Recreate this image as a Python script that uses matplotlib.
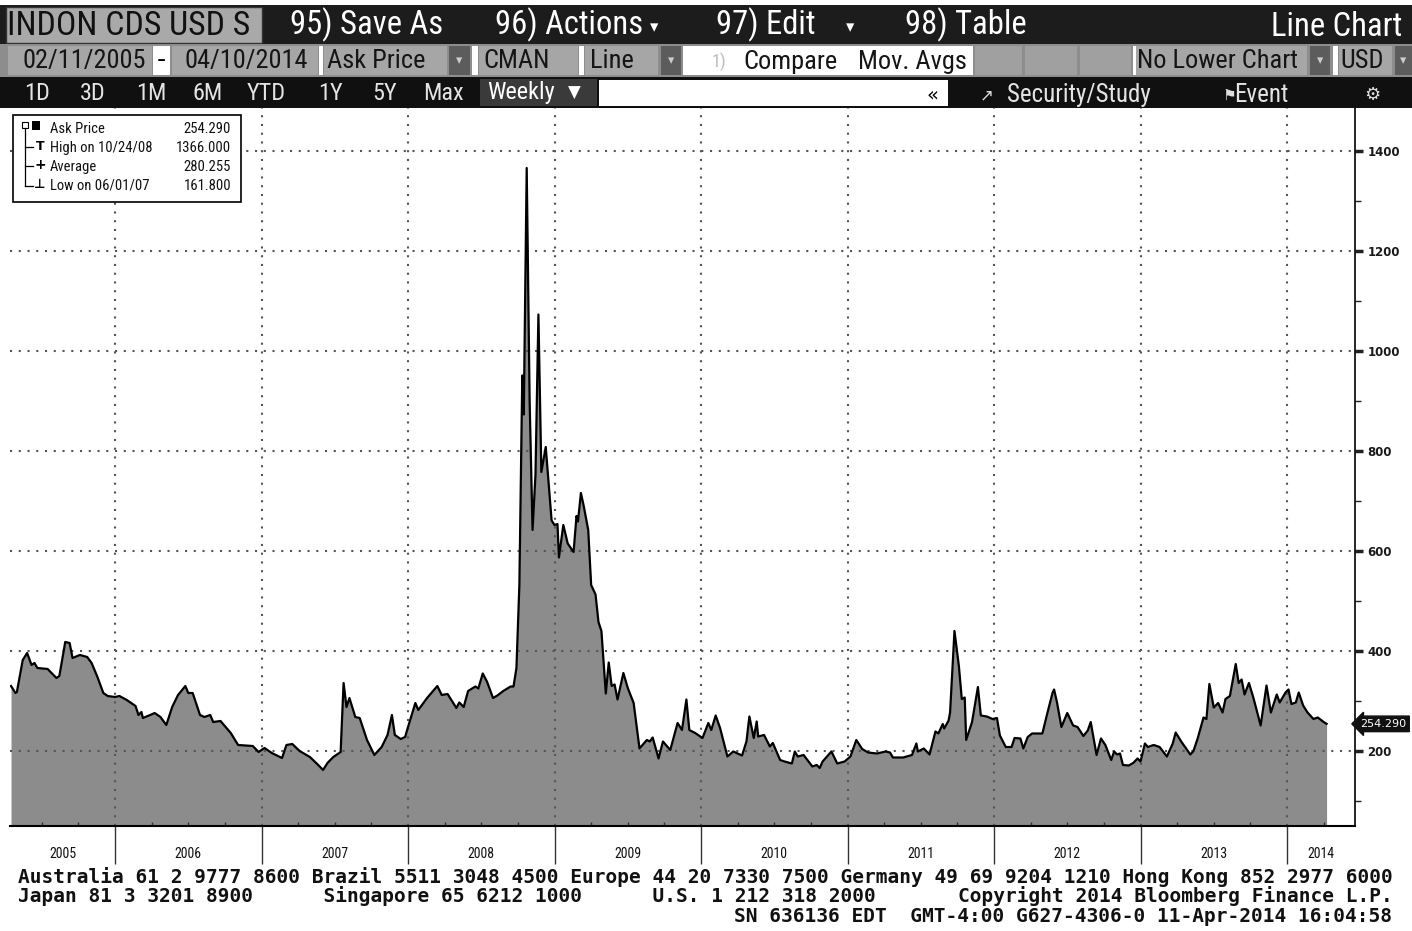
import matplotlib
matplotlib.use("Agg")
import matplotlib.pyplot as plt
from matplotlib.patches import Rectangle
from matplotlib.ticker import FixedLocator, MultipleLocator
from matplotlib.transforms import blended_transform_factory
from matplotlib import font_manager

# weekly ask price, INDON CDS USD 5y (time in decimal years)
years = [
    2005.29, 2005.32, 2005.33, 2005.37, 2005.40, 2005.43, 2005.45, 2005.47, 2005.54, 2005.60,
    2005.62, 2005.66, 2005.69, 2005.71, 2005.76, 2005.81, 2005.84, 2005.88, 2005.92, 2005.95,
    2006.00, 2006.03, 2006.08, 2006.14, 2006.16, 2006.18, 2006.19, 2006.24, 2006.27, 2006.31,
    2006.35, 2006.39, 2006.43, 2006.48, 2006.50, 2006.53, 2006.58, 2006.61, 2006.65, 2006.67,
    2006.72, 2006.79, 2006.84, 2006.94, 2006.98,
    2007.02, 2007.07, 2007.14, 2007.17, 2007.21, 2007.26, 2007.33, 2007.38, 2007.42, 2007.45,
    2007.49, 2007.54, 2007.56, 2007.58, 2007.60, 2007.64, 2007.67, 2007.72, 2007.77, 2007.82,
    2007.86, 2007.89, 2007.91, 2007.95, 2007.98,
    2008.00, 2008.05, 2008.07, 2008.13, 2008.20, 2008.23, 2008.27, 2008.33, 2008.35, 2008.38,
    2008.41, 2008.46, 2008.48, 2008.51, 2008.54, 2008.58, 2008.61, 2008.65, 2008.70, 2008.72,
    2008.74, 2008.76, 2008.78, 2008.79, 2008.81, 2008.83, 2008.85, 2008.87, 2008.89, 2008.91,
    2008.94, 2008.96, 2008.98,
    2009.00, 2009.02, 2009.03, 2009.06, 2009.09, 2009.13, 2009.15, 2009.16, 2009.18, 2009.20,
    2009.23, 2009.25, 2009.28, 2009.30, 2009.32, 2009.35, 2009.37, 2009.39, 2009.41, 2009.43,
    2009.47, 2009.50, 2009.54, 2009.58, 2009.63, 2009.65, 2009.67, 2009.71, 2009.74, 2009.79,
    2009.84, 2009.87, 2009.90, 2009.92, 2009.96,
    2010.01, 2010.05, 2010.07, 2010.10, 2010.13, 2010.18, 2010.22, 2010.28, 2010.31, 2010.33,
    2010.36, 2010.38, 2010.39, 2010.43, 2010.47, 2010.49, 2010.54, 2010.57, 2010.62, 2010.64,
    2010.66, 2010.70, 2010.76, 2010.79, 2010.81, 2010.83, 2010.86, 2010.89, 2010.93, 2010.98,
    2011.02, 2011.06, 2011.10, 2011.14, 2011.20, 2011.26, 2011.29, 2011.31, 2011.38, 2011.44,
    2011.47, 2011.48, 2011.52, 2011.56, 2011.60, 2011.62, 2011.65, 2011.66, 2011.69, 2011.70,
    2011.73, 2011.76, 2011.78, 2011.80, 2011.81, 2011.85, 2011.89, 2011.91, 2011.95, 2011.99,
    2012.02, 2012.04, 2012.08, 2012.12, 2012.14, 2012.18, 2012.20, 2012.23, 2012.26, 2012.33,
    2012.36, 2012.40, 2012.41, 2012.43, 2012.46, 2012.50, 2012.54, 2012.57, 2012.61, 2012.64,
    2012.66, 2012.70, 2012.73, 2012.76, 2012.80, 2012.82, 2012.84, 2012.86, 2012.88, 2012.92,
    2012.95, 2012.98,
    2013.00, 2013.03, 2013.05, 2013.09, 2013.13, 2013.18, 2013.22, 2013.24, 2013.28, 2013.34,
    2013.36, 2013.39, 2013.43, 2013.45, 2013.47, 2013.50, 2013.53, 2013.56, 2013.58, 2013.61,
    2013.65, 2013.67, 2013.69, 2013.71, 2013.74, 2013.77, 2013.82, 2013.86, 2013.89, 2013.93,
    2013.95, 2013.99,
    2014.01, 2014.03, 2014.06, 2014.08, 2014.11, 2014.14, 2014.18, 2014.21, 2014.25, 2014.27,
]
spread = [
    330, 316, 318, 382, 396, 372, 376, 366, 364, 346,
    350, 418, 416, 386, 392, 388, 376, 348, 316, 310,
    308, 310, 302, 290, 272, 278, 266, 272, 276, 268,
    252, 288, 312, 330, 316, 316, 272, 268, 272, 258,
    260, 236, 212, 210, 198,
    206, 196, 186, 212, 214, 200, 188, 174, 162, 176,
    188, 198, 336, 288, 306, 268, 266, 222, 192, 208,
    232, 272, 232, 224, 228,
    248, 296, 282, 306, 330, 312, 314, 286, 297, 288,
    320, 329, 325, 355, 338, 306, 311, 320, 329, 329,
    366, 532, 951, 873, 1366, 900, 642, 753, 1073, 758,
    808, 735, 661,
    652, 654, 587, 652, 615, 598, 670, 659, 716, 689,
    642, 532, 513, 458, 440, 315, 377, 330, 333, 303,
    356, 326, 296, 205, 222, 219, 227, 185, 219, 202,
    256, 242, 303, 242, 236,
    226, 256, 242, 271, 246, 189, 199, 191, 219, 269,
    226, 259, 229, 232, 209, 216, 182, 179, 175, 199,
    189, 192, 169, 172, 166, 179, 189, 199, 175, 179,
    189, 222, 204, 197, 195, 199, 197, 187, 187, 192,
    215, 199, 205, 193, 239, 235, 254, 245, 261, 277,
    440, 370, 304, 307, 222, 258, 328, 271, 269, 264,
    266, 231, 208, 208, 226, 225, 205, 228, 235, 235,
    271, 317, 323, 297, 248, 276, 251, 248, 230, 241,
    258, 192, 225, 212, 182, 199, 193, 195, 172, 171,
    176, 185,
    179, 215, 208, 212, 208, 189, 215, 237, 218, 193,
    199, 225, 267, 264, 334, 287, 296, 277, 304, 310,
    374, 336, 343, 313, 336, 307, 251, 331, 277, 313,
    297, 317,
    323, 294, 297, 317, 291, 277, 264, 267, 258, 254.29,
]
last_price = 254.29

year_edges = [2006, 2007, 2008, 2009, 2010, 2011, 2012, 2013, 2014]
year_labels = ['2005', '2006', '2007', '2008', '2009', '2010', '2011', '2012', '2013', '2014']
price_ticks = [200, 400, 600, 800, 1000, 1200, 1400]

legend_names = ['Ask Price', 'High on 10/24/08', 'Average', 'Low on 06/01/07']
legend_values = ['254.290', '1366.000', '280.255', '161.800']

range_buttons = ['1D', '3D', '1M', '6M', 'YTD', '1Y', '5Y', 'Max']

footer_lines = [
    'Australia 61 2 9777 8600 Brazil 5511 3048 4500 Europe 44 20 7330 7500 Germany 49 69 9204 1210 Hong Kong 852 2977 6000',
    'Japan 81 3 3201 8900      Singapore 65 6212 1000      U.S. 1 212 318 2000       Copyright 2014 Bloomberg Finance L.P.',
    'SN 636136 EDT  GMT-4:00 G627-4306-0 11-Apr-2014 16:04:58',
]

W, H = 1412, 931
installed = {f.name for f in font_manager.fontManager.ttflist}
NARROW = next((n for n in ['Liberation Sans Narrow', 'Roboto Condensed', 'Open Sans Condensed']
               if n in installed), 'Liberation Sans')
HEAD = [NARROW, 'DejaVu Sans']

fig = plt.figure(figsize=(W / 100, H / 100), dpi=100)
fig.patch.set_facecolor('white')


def fx(x):
    return x / W


def fy(y):
    return 1 - y / H


def rect(x0, y0, x1, y1, fc, ec='none', lw=0, z=1):
    fig.add_artist(Rectangle((fx(x0), fy(y1)), (x1 - x0) / W, (y1 - y0) / H,
                             transform=fig.transFigure, fc=fc, ec=ec, lw=lw, zorder=z))


def label(x, y, s, **kw):
    kw.setdefault('va', 'center')
    kw.setdefault('zorder', 6)
    fig.text(fx(x), fy(y), s, **kw)


# ---- chart ----
ax = fig.add_axes([fx(10), fy(826), (1355 - 10) / W, (826 - 108) / H])
ax.set_facecolor('white')
ax.fill_between(years, spread, 0, color='#8c8c8c', lw=0, zorder=1)
ax.plot(years, spread, color='black', lw=1.6, zorder=3)

ax.set_xlim(2005.283, 2014.464)
ax.set_ylim(50, 1486)

ax.xaxis.set_major_locator(FixedLocator(year_edges))
ax.xaxis.set_minor_locator(MultipleLocator(0.25))
ax.yaxis.set_major_locator(FixedLocator(price_ticks))
ax.yaxis.set_minor_locator(MultipleLocator(100))
ax.yaxis.tick_right()

ax.grid(which='major', color='#555555', ls=(0, (1, 3.2)), lw=1.5, zorder=2)
ax.tick_params(axis='x', which='major', direction='out', length=27, width=1,
               color='#333333', labelbottom=False)
ax.tick_params(axis='x', which='minor', direction='in', length=3, width=1, color='#333333')
ax.tick_params(axis='y', which='major', direction='out', length=6, width=2.5,
               color='#222222', labelsize=8.5, labelcolor='#1a1a1a', pad=3)
ax.tick_params(axis='y', which='minor', direction='out', length=4, width=1, color='#222222')
for t in ax.get_yticklabels():
    t.set_fontweight('bold')

for side in ['left', 'top']:
    ax.spines[side].set_visible(False)
ax.spines['right'].set_linewidth(1.2)
ax.spines['bottom'].set_linewidth(1.5)

# year names centred between the year edges that are visible
x0, x1 = ax.get_xlim()
bounds = [x0] + year_edges + [x1]
lab_tr = blended_transform_factory(ax.transData, ax.transAxes)
for i, name in enumerate(year_labels):
    ax.text((bounds[i] + bounds[i + 1]) / 2, -0.039, name, transform=lab_tr,
            ha='center', va='center', fontsize=10, color='#111111', clip_on=False,
            family=HEAD)

# last value tag on the price axis
tag_tr = blended_transform_factory(ax.transAxes, ax.transData)
ax.text(1.004, last_price, '254.290', transform=tag_tr, ha='left', va='center',
        fontsize=8, color='white', clip_on=False,
        bbox=dict(boxstyle='larrow,pad=0.25', fc='#111111', ec='#111111'))

# ---- legend box ----
rect(13, 115, 241, 202, 'white', ec='black', lw=1.2, z=5)
rect(22, 122, 28, 128, 'white', ec='black', lw=0.8, z=6)
rect(32, 121, 40, 130, 'black', z=6)
fig.add_artist(plt.Line2D([fx(25), fx(25)], [fy(128), fy(186)], transform=fig.transFigure,
                          color='black', lw=0.9, zorder=6))
for yy in [147, 166, 186]:
    fig.add_artist(plt.Line2D([fx(25), fx(33)], [fy(yy), fy(yy)], transform=fig.transFigure,
                              color='black', lw=0.9, zorder=6))
label(40, 146, 'T', fontsize=9, ha='center', fontweight='bold')
label(40, 165, '+', fontsize=10, ha='center', fontweight='bold')
label(40, 184, '⊥', fontsize=9, ha='center', fontweight='bold')
for i, (name, val) in enumerate(zip(legend_names, legend_values)):
    yy = 129 + 19 * i
    label(50, yy, name, fontsize=10.5, color='#111111', family=HEAD)
    label(231, yy, val, fontsize=10.5, color='#111111', ha='right', family=HEAD)

# ---- toolbar, row 1 ----
rect(0, 5, W, 44, '#1c1c1c')
rect(6, 7, 262, 43, '#a9a9a9', ec='#333333', lw=1)
label(7, 26, 'INDON CDS USD S', fontsize=24.5, family=HEAD, color='#111111')
for x, s in [(290, '95) Save As'), (495, '96) Actions'), (716, '97) Edit'), (905, '98) Table')]:
    label(x, 25, s, fontsize=23.5, family=HEAD, color='white')
label(654, 27, '▾', fontsize=12, color='white', family='DejaVu Sans', ha='center')
label(850, 27, '▾', fontsize=12, color='white', family='DejaVu Sans', ha='center')
label(1402, 27, 'Line Chart', fontsize=23.5, family=HEAD, color='white', ha='right')

# ---- toolbar, row 2 ----
rect(0, 44, W, 77, '#8d8d8d')
cells = [(8, 152, 22, '02/11/2005'), (172, 318, 185, '04/10/2014'), (324, 447, 327, 'Ask Price'),
         (479, 578, 483, 'CMAN'), (585, 658, 590, 'Line'), (1136, 1307, 1137, 'No Lower Chart'),
         (1339, 1392, 1340, 'USD')]
for a, b, tx, s in cells:
    rect(a, 46, b, 75, '#a6a6a6')
    label(tx, 61, s, fontsize=19, family=HEAD, color='#151515')
for a, b in [(153, 170), (319, 323), (472, 478), (579, 584), (1133, 1136), (1333, 1338)]:
    rect(a, 46, b, 75, 'white')
label(161, 60, '-', fontsize=18, ha='center', color='black')
for a, b in [(449, 470), (661, 681), (1310, 1330), (1395, W)]:
    rect(a, 46, b, 75, '#5c5c5c')
    label((a + b) / 2, 61, '▾', fontsize=9, ha='center', color='#cccccc')
for a, b in [(975, 1022), (1025, 1077), (1080, 1131)]:
    rect(a, 46, b, 75, '#a0a0a0')
rect(683, 46, 973, 75, 'white')
label(712, 62, '1)', fontsize=13, family=HEAD, color='#bbbbbb')
label(743, 62, 'Compare', fontsize=19, family=HEAD, color='#151515')
label(858, 62, 'Mov. Avgs', fontsize=19, family=HEAD, color='#151515')

# ---- toolbar, row 3 ----
rect(0, 77, W, 108, '#101010')
for x, s in zip([24, 80, 136, 192, 247, 318, 372, 423], range_buttons):
    label(x, 93, s, fontsize=17.5, family=HEAD, color='#e4e4e4')
rect(480, 79, 597, 106, '#3a3a3a')
label(487, 93, 'Weekly', fontsize=17.5, family=HEAD, color='white')
label(568, 93, '▼', fontsize=12, color='white')
rect(599, 80, 948, 106, 'white')
label(932, 95, '«', fontsize=14, color='black', ha='center')
label(980, 95, '↗', fontsize=12, color='#dddddd')
label(1007, 95, 'Security/Study', fontsize=18, family=HEAD, color='#e4e4e4')
label(1222, 95, '⚑', fontsize=11, color='#dddddd')
label(1234, 95, 'Event', fontsize=18, family=HEAD, color='#e4e4e4')
label(1372, 95, '⚙', fontsize=13, color='#dddddd', ha='center')

# ---- footer ----
mono = dict(fontsize=14, family='DejaVu Sans Mono', color='#111111', fontweight='bold')
label(18, 877, footer_lines[0], **mono)
label(18, 896, footer_lines[1], **mono)
label(1392, 917, footer_lines[2], ha='right', **mono)

fig.savefig('out.png', dpi=100)
